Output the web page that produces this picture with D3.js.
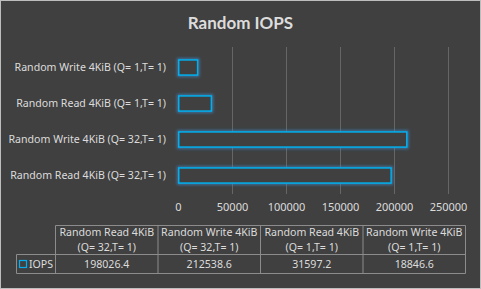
<!DOCTYPE html>
<html><head><meta charset="utf-8">
<script src="https://cdn.jsdelivr.net/npm/d3@7"></script>
<style>html,body{margin:0;padding:0;background:#404040;}svg{display:block;}</style>
</head><body>
<script>
const title = "Random IOPS";
const categories = ["Random Read 4KiB (Q= 32,T= 1)", "Random Write 4KiB (Q= 32,T= 1)", "Random Read 4KiB (Q= 1,T= 1)", "Random Write 4KiB (Q= 1,T= 1)"];
const headerTop = ["Random Read 4KiB", "Random Write 4KiB", "Random Read 4KiB", "Random Write 4KiB"];
const headerBottom = ["(Q= 32,T= 1)", "(Q= 32,T= 1)", "(Q= 1,T= 1)", "(Q= 1,T= 1)"];
const seriesName = "IOPS";
const values = [198026.4, 212538.6, 31597.2, 18846.6];
const valueLabels = ["198026.4", "212538.6", "31597.2", "18846.6"];
const xTicks = [0, 50000, 100000, 150000, 200000, 250000];

const W = 481, H = 289;
const txt = "#dcdcdc", blue = "#00b0f0", gridC = "#666666", tableC = "#8c8c8c";
const font = "'Noto Sans', 'Open Sans', sans-serif";

const svg = d3.select("body").append("svg").attr("width", W).attr("height", H);
const defs = svg.append("defs");
const f = defs.append("filter").attr("id","glow").attr("x","-20%").attr("y","-50%").attr("width","140%").attr("height","200%");
f.append("feGaussianBlur").attr("stdDeviation", 1.6);

svg.append("rect").attr("x",0.5).attr("y",0.5).attr("width",W-1).attr("height",H-1)
  .attr("fill","#404040").attr("stroke","#bdbdbd");

svg.append("text").attr("x", 240.5).attr("y", 29).attr("text-anchor","middle")
  .attr("font-family","Lato, 'Open Sans', sans-serif").attr("font-weight","bold").attr("font-size",17)
  .attr("fill", txt).text(title);

const x = d3.scaleLinear().domain([0, 250000]).range([178, 448]);
const y = d3.scaleBand().domain(categories.slice().reverse()).range([49.5, 193.5]).paddingInner(0.58).paddingOuter(0.29);

// gridlines
svg.append("g").selectAll("line").data(xTicks.filter(d=>d>0)).join("line")
  .attr("x1", d=>Math.round(x(d))+0.5).attr("x2", d=>Math.round(x(d))+0.5)
  .attr("y1", 47).attr("y2", 194).attr("stroke", gridC).attr("stroke-width",1);

// x axis
const xa = svg.append("g").attr("transform","translate(0,194)")
  .call(d3.axisBottom(x).tickValues(xTicks).tickSize(0).tickPadding(9).tickFormat(d3.format("d")));
xa.select(".domain").remove();
xa.selectAll("text").attr("fill", txt).attr("font-family", font).attr("font-size", 11);

// y axis
const ya = svg.append("g").attr("transform","translate(178,0)")
  .call(d3.axisLeft(y).tickSize(0).tickPadding(12));
ya.select(".domain").remove();
ya.selectAll("text").attr("fill", txt).attr("font-family", font).attr("font-size", 10.6);

// bars
const bars = svg.append("g");
const dat = categories.map((c,i)=>({c, v: values[i]}));
bars.selectAll("rect.g").data(dat).join("rect").attr("class","g")
  .attr("x", x(0)+0.75).attr("y", d=>y(d.c)).attr("width", d=>x(d.v)-x(0)-1.5).attr("height", y.bandwidth())
  .attr("fill","none").attr("stroke","#3a8fd0").attr("stroke-width",3.5).attr("opacity",0.7).attr("filter","url(#glow)");
bars.selectAll("rect.b").data(dat).join("rect").attr("class","b")
  .attr("x", x(0)+0.75).attr("y", d=>y(d.c)).attr("width", d=>x(d.v)-x(0)-1.5).attr("height", y.bandwidth())
  .attr("fill","#404040").attr("stroke",blue).attr("stroke-width",1.5);

// data table
const tx = d3.scaleBand().domain(categories).range([55.5, 465.5]);
const legL = 16.5, rTop = 225.5, rMid = 254.5, rBot = 273.5;
const tg = svg.append("g").attr("stroke", tableC).attr("stroke-width",1).attr("fill","none");
tg.append("line").attr("x1",55.5).attr("x2",465.5).attr("y1",rTop).attr("y2",rTop);
tg.append("line").attr("x1",legL).attr("x2",465.5).attr("y1",rMid).attr("y2",rMid);
tg.append("line").attr("x1",legL).attr("x2",465.5).attr("y1",rBot).attr("y2",rBot);
tg.append("line").attr("x1",legL).attr("x2",legL).attr("y1",rMid).attr("y2",rBot);
tg.selectAll("line.v").data(categories.concat(["end"])).join("line").attr("class","v")
  .attr("x1",(d,i)=> i<categories.length ? tx(d) : tx.range()[1])
  .attr("x2",(d,i)=> i<categories.length ? tx(d) : tx.range()[1])
  .attr("y1",rTop).attr("y2",rBot);

const tt = svg.append("g").attr("fill", txt).attr("font-family", font).attr("font-size", 10.6).attr("text-anchor","middle");
tt.selectAll("text.h1").data(categories).join("text").attr("class","h1")
  .attr("x", d=>tx(d)+tx.bandwidth()/2).attr("y", 236).text((d,i)=>headerTop[i]);
tt.selectAll("text.h2").data(categories).join("text").attr("class","h2")
  .attr("x", d=>tx(d)+tx.bandwidth()/2).attr("y", 251).text((d,i)=>headerBottom[i]);
tt.selectAll("text.v").data(categories).join("text").attr("class","v")
  .attr("x", d=>tx(d)+tx.bandwidth()/2).attr("y", 268).text((d,i)=>valueLabels[i]);

svg.append("rect").attr("x",19.5).attr("y",260.5).attr("width",7).attr("height",7)
  .attr("fill","none").attr("stroke",blue).attr("stroke-width",1.2);
svg.append("text").attr("x",29).attr("y",268).attr("fill",txt).attr("font-family",font).attr("font-size",10.6).text(seriesName);
</script>
</body></html>
